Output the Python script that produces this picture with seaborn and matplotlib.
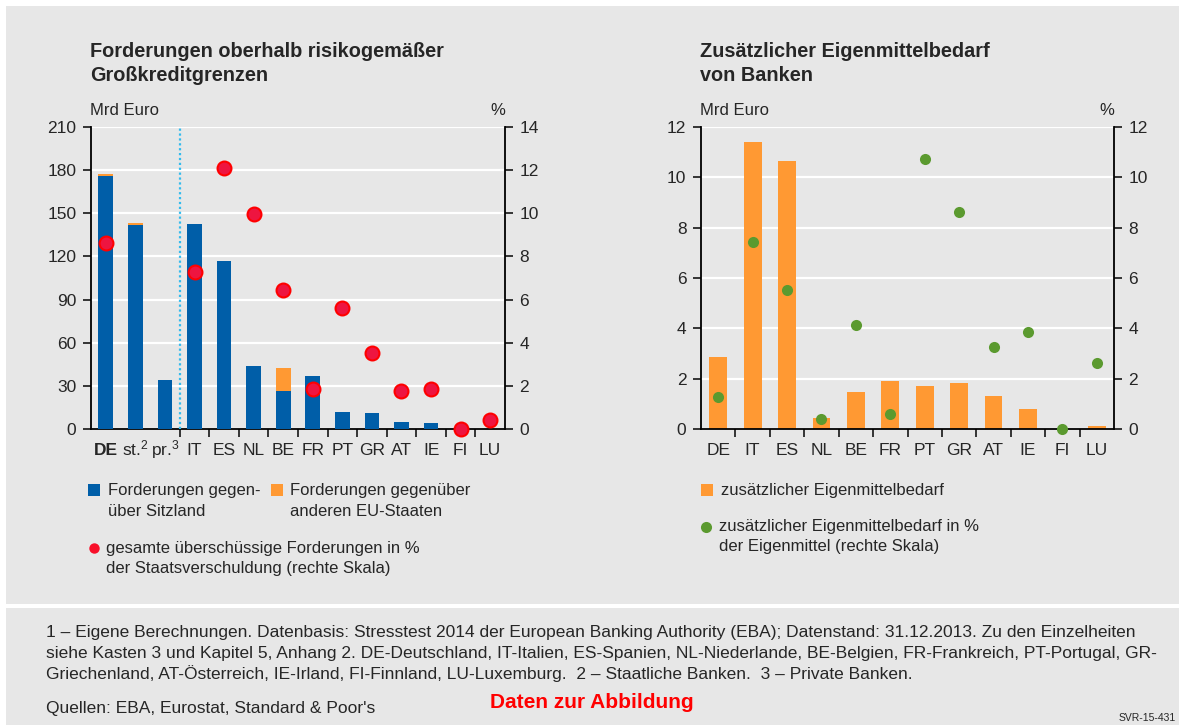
import numpy as np
import pandas as pd
import seaborn as sns
import matplotlib.pyplot as plt
from matplotlib.patches import Rectangle
from matplotlib.lines import Line2D

# ---- data: left chart (Mrd Euro, % right scale)
left_cats = ["DE", "st", "pr", "IT", "ES", "NL", "BE", "FR", "PT", "GR", "AT", "IE", "FI", "LU"]
left_labels = ["DE", "st.$^2$", "pr.$^3$", "IT", "ES", "NL", "BE", "FR", "PT", "GR", "AT", "IE", "FI", "LU"]
sitzland = [176, 142, 34, 142.5, 117, 44, 26.5, 37, 12, 11, 4.9, 4.2, 0, 0]
andere_eu = [1.5, 1.4, 0, 0, 0, 0, 16, 0, 0, 0.4, 0, 0, 0, 0.3]
pct_staatsschuld = [8.6, np.nan, np.nan, 7.3, 12.1, 9.95, 6.45, 1.87, 5.62, 3.54, 1.76, 1.87, 0.0, 0.42]

# ---- data: right chart
right_cats = ["DE", "IT", "ES", "NL", "BE", "FR", "PT", "GR", "AT", "IE", "FI", "LU"]
eigenmittelbedarf = [2.86, 11.42, 10.66, 0.44, 1.47, 1.91, 1.71, 1.83, 1.31, 0.80, 0.0, 0.12]
pct_eigenmittel = [1.26, 7.44, 5.53, 0.41, 4.12, 0.60, 10.73, 8.61, 3.25, 3.86, 0.0, 2.61]

BLUE = "#005ea8"
ORANGE = "#ff9933"
RED = "#ee1540"
GREEN = "#5b9a2f"
GRAY = "#e7e7e7"

sns.set_style("white", rc={"axes.facecolor": GRAY})
plt.rcParams["font.family"] = ["Liberation Sans", "DejaVu Sans"]
plt.rcParams["mathtext.fontset"] = "custom"
plt.rcParams["mathtext.rm"] = "Liberation Sans"
plt.rcParams["mathtext.default"] = "regular"

W, H = 1179, 725
fig = plt.figure(figsize=(W / 100, H / 100), dpi=100, facecolor="white")


def fx(x):
    return x / W


def fy(y):
    return (H - y) / H


# gray panels
fig.add_artist(Rectangle((fx(6), fy(604)), 1, fy(6) - fy(604), transform=fig.transFigure,
                         facecolor=GRAY, edgecolor="none", zorder=0))
fig.add_artist(Rectangle((fx(6), 0), 1, fy(607.5), transform=fig.transFigure,
                         facecolor=GRAY, edgecolor="none", zorder=0))


def style_axes(ax, ax2, ymax, ystep, y2max, y2step, n, boundaries):
    ax.set_ylim(0, ymax)
    ax.set_yticks(np.arange(0, ymax + 1e-9, ystep))
    ax2.set_ylim(0, y2max)
    ax2.set_yticks(np.arange(0, y2max + 1e-9, y2step))
    ax.set_xlim(-0.5, n - 0.5)
    ax2.set_xlim(-0.5, n - 0.5)
    ax.grid(axis="y", color="white", linewidth=1.6)
    ax.set_axisbelow(True)
    ax2.grid(False)
    for a in (ax, ax2):
        a.set_xlabel("")
        a.set_ylabel("")
        a.spines["top"].set_visible(False)
        for s in ("left", "right", "bottom"):
            a.spines[s].set_linewidth(1.3)
            a.spines[s].set_color("black")
    ax.spines["right"].set_visible(False)
    ax2.spines["left"].set_visible(False)
    ax2.spines["bottom"].set_visible(False)
    ax.tick_params(axis="y", direction="out", length=5.5, width=1.3, pad=5, labelsize=12.5, left=True)
    ax2.tick_params(axis="y", direction="out", length=5.5, width=1.3, pad=5, labelsize=12.5, right=True)
    ax.set_xticks(boundaries, minor=True)
    ax.tick_params(axis="x", which="minor", direction="out", length=5.5, width=1.3, bottom=True)
    ax.tick_params(axis="x", which="major", length=0, pad=19, labelsize=12.5)
    ax2.tick_params(axis="x", which="both", length=0, labelbottom=False)


def baseline_labels(ax):
    for t in ax.get_xticklabels():
        t.set_verticalalignment("baseline")


# ---------------- left chart
df_l = pd.DataFrame({"cat": left_cats, "blue": sitzland, "orange": andere_eu, "pct": pct_staatsschuld})
df_l["total"] = df_l["blue"] + df_l["orange"]

ax1 = fig.add_axes([fx(91), fy(429), fx(505) - fx(91), fy(127) - fy(429)])
sns.barplot(data=df_l, x="cat", y="total", order=left_cats, color=ORANGE, saturation=1,
            width=0.5, errorbar=None, linewidth=0, ax=ax1, zorder=2)
sns.barplot(data=df_l, x="cat", y="blue", order=left_cats, color=BLUE, saturation=1,
            width=0.5, errorbar=None, linewidth=0, ax=ax1, zorder=3)
ax1.axvline(2.5, color="#33bbee", linestyle=(0, (1, 1.2)), linewidth=1.6, zorder=4)
ax1b = ax1.twinx()
sns.stripplot(data=df_l, x="cat", y="pct", order=left_cats, jitter=False, color=RED,
              size=10, edgecolor="#ff0000", linewidth=1.5, ax=ax1b, zorder=5)
for c in ax1b.collections:
    c.set_clip_on(False)
style_axes(ax1, ax1b, 210, 30, 14, 2, len(left_cats), np.arange(2.5, 13.0, 1.0))
ax1.set_xticks(range(len(left_cats)))
ax1.set_xticklabels(left_labels)
ax1.get_xticklabels()[0].set_fontweight("bold")
baseline_labels(ax1)

# ---------------- right chart
df_r = pd.DataFrame({"cat": right_cats, "bedarf": eigenmittelbedarf, "pct": pct_eigenmittel})
ax2 = fig.add_axes([fx(701), fy(429), fx(1114) - fx(701), fy(127) - fy(429)])
sns.barplot(data=df_r, x="cat", y="bedarf", order=right_cats, color=ORANGE, saturation=1,
            width=0.52, errorbar=None, linewidth=0, ax=ax2, zorder=2)
ax2b = ax2.twinx()
sns.stripplot(data=df_r, x="cat", y="pct", order=right_cats, jitter=False, color=GREEN,
              size=8, linewidth=0, ax=ax2b, zorder=5)
for c in ax2b.collections:
    c.set_clip_on(False)
style_axes(ax2, ax2b, 12, 2, 12, 2, len(right_cats), np.arange(0.5, 11.0, 1.0))
ax2.set_xticks(range(len(right_cats)))
ax2.set_xticklabels(right_cats)
baseline_labels(ax2)

# ---------------- titles and axis units
fig.text(fx(90.5), fy(57), "Forderungen oberhalb risikogemäßer", fontsize=14.3, fontweight="bold", va="baseline")
fig.text(fx(90.5), fy(81), "Großkreditgrenzen", fontsize=14.3, fontweight="bold", va="baseline")
fig.text(fx(700), fy(57), "Zusätzlicher Eigenmittelbedarf", fontsize=14.3, fontweight="bold", va="baseline")
fig.text(fx(700), fy(81), "von Banken", fontsize=14.3, fontweight="bold", va="baseline")
for x0, x1 in ((90.5, 505), (700, 1114)):
    fig.text(fx(x0), fy(115), "Mrd Euro", fontsize=12, va="baseline")
    fig.text(fx(x1), fy(115), "%", fontsize=12, va="baseline", ha="right")

# ---------------- legends
def square(x, y, color):
    fig.add_artist(Rectangle((fx(x), fy(y + 12)), fx(12), 12 / H, transform=fig.transFigure,
                             facecolor=color, edgecolor="none"))


def dot(x, y, color, size):
    fig.add_artist(Line2D([fx(x)], [fy(y)], transform=fig.transFigure, marker="o", markersize=size,
                          color=color, markeredgewidth=0, linestyle="none"))


def leg_text(x, y, s):
    fig.text(fx(x), fy(y), s, fontsize=12, va="center")


square(88, 484, BLUE)
leg_text(107.5, 490, "Forderungen gegen-")
leg_text(107.5, 511, "über Sitzland")
square(271, 484, ORANGE)
leg_text(290, 490, "Forderungen gegenüber")
leg_text(290, 511, "anderen EU-Staaten")
dot(93.5, 548, "#f8102a", 7.5)
leg_text(105.5, 548, "gesamte überschüssige Forderungen in %")
leg_text(105.5, 568, "der Staatsverschuldung (rechte Skala)")

square(700.5, 483.5, ORANGE)
leg_text(721, 490, "zusätzlicher Eigenmittelbedarf")
dot(706, 526.5, GREEN, 8)
leg_text(719, 526, "zusätzlicher Eigenmittelbedarf in %")
leg_text(719, 546, "der Eigenmittel (rechte Skala)")

# ---------------- footnotes
notes = [
    "1 – Eigene Berechnungen. Datenbasis: Stresstest 2014 der European Banking Authority (EBA); Datenstand: 31.12.2013. Zu den Einzelheiten",
    "siehe Kasten 3 und Kapitel 5, Anhang 2. DE-Deutschland, IT-Italien, ES-Spanien, NL-Niederlande, BE-Belgien, FR-Frankreich, PT-Portugal, GR-",
    "Griechenland, AT-Österreich, IE-Irland, FI-Finnland, LU-Luxemburg.  2 – Staatliche Banken.  3 – Private Banken.",
]
for i, line in enumerate(notes):
    fig.text(fx(46), fy(633 + 20.3 * i), line, fontsize=12.5, va="center")
fig.text(fx(46), fy(708), "Quellen: EBA, Eurostat, Standard & Poor's", fontsize=12.5, va="center")
fig.text(fx(490), fy(703), "Daten zur Abbildung", fontsize=15, fontweight="bold", color="#ff0000", va="center")
fig.text(fx(1176), fy(718), "SVR-15-431", fontsize=7.5, va="center", ha="right")

fig.savefig("out.png", dpi=100)
